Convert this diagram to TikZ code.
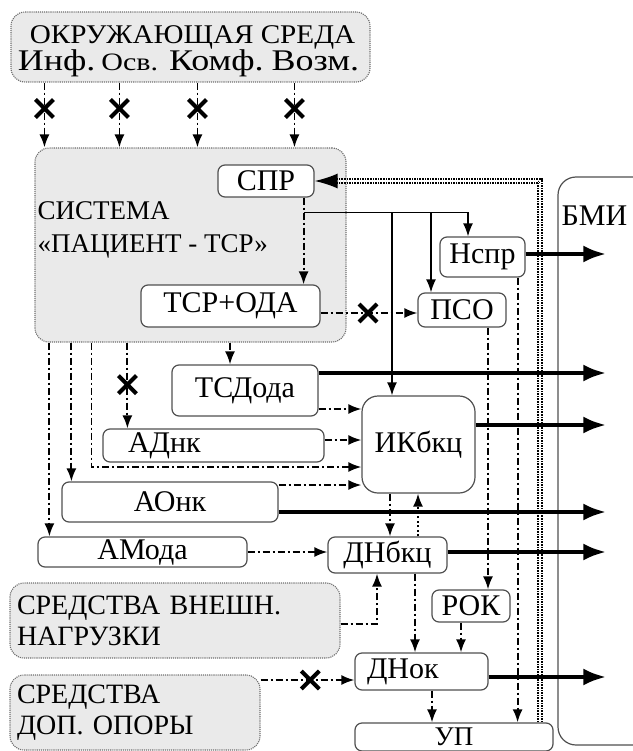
\documentclass[tikz,border=0pt]{standalone}
\usepackage{fontspec}
\setmainfont{Liberation Serif}
\usetikzlibrary{arrows.meta,shapes.misc}
\definecolor{pbFill}{RGB}{234,234,234}
\definecolor{pbEdge}{RGB}{80,80,80}
\definecolor{pbDot}{RGB}{110,110,110}

\tikzset{
  blk/.style={draw=pbEdge, line width=1.2pt, rounded corners=7pt, fill=white,
    font=\fontsize{30}{32}\selectfont, inner sep=0pt},
  grbox/.style={draw=pbDot, densely dotted, line width=1.1pt, rounded corners=14pt,
    fill=pbFill, font=\fontsize{28}{31}\selectfont, inner sep=0pt},
  dd/.style={line width=1.9pt, dash pattern=on 7pt off 3pt on 2pt off 3pt,
    -{Latex[length=13pt,width=10pt]}},
  dt/.style={line width=1.9pt, dash pattern=on 2pt off 2.6pt,
    -{Latex[length=13pt,width=10pt]}},
  sol/.style={line width=1.5pt, -{Latex[length=13pt,width=10pt]}},
  fat/.style={line width=4.5pt, -{Latex[length=23pt,width=17pt]}},
  fb/.style={double, double distance=2.6pt, line width=1.6pt, densely dotted,
    -{Latex[length=23pt,width=15pt]}},
  xm/.style={cross out, draw=black, solid, line width=4pt, minimum size=14pt, inner sep=0pt},
}
\newcommand{\wide}[2]{\scalebox{1.2}[1]{\fontsize{#1}{#1}\selectfont #2}}

\begin{document}
\begin{tikzpicture}[x=1pt, y=-1pt]
\useasboundingbox (0,0) rectangle (632,751);
%% Environment and system
\node[grbox, minimum width=359pt, minimum height=70pt] (env) at (190.5,47) {};
\node[font=\fontsize{27}{27}\selectfont, align=center, inner sep=0pt] (envT) at ([xshift=-2pt, yshift=-4pt]env.center)
  {\hspace*{8pt}\scalebox{1.08}[1]{ОКРУЖАЮЩАЯ СРЕДА}\\
   \wide{30}{Инф.}\hspace{6pt}\wide{25}{Осв.}\hspace{11pt}\wide{30}{Комф.}\hspace{8pt}\wide{30}{Возм.}};
\node[grbox, minimum width=311pt, minimum height=194pt] (sys) at (190.5,245) {};
\node[anchor=west, align=left, inner sep=0pt, font=\fontsize{27}{33}\selectfont] (sysT)
  at ([xshift=3pt, yshift=15pt]sys.west) {СИСТЕМА\\«ПАЦИЕНТ - ТСР»};
\node[grbox, minimum width=330pt, minimum height=75pt, align=left, text width=316pt] (vnesh)
  at (175,620.5) {СРЕДСТВА ВНЕШН.\\НАГРУЗКИ};
\node[grbox, minimum width=250pt, minimum height=75pt, align=left, text width=236pt] (opor)
  at (135,712.5) {СРЕДСТВА\\ДОП. ОПОРЫ};
%% BMI panel
\node[blk, rounded corners=18pt, minimum width=142pt, minimum height=568pt] (bmi) at (629,461) {};
\node[anchor=base west, inner sep=0pt, font=\fontsize{30}{32}\selectfont] (bmiT)
  at ([xshift=4pt, yshift=-49pt]bmi.north west) {БМИ};
%% Blocks
\node[blk, minimum width=96pt,  minimum height=32pt] (spr)    at (266,181)     {СПР};
\node[blk, minimum width=179pt, minimum height=42pt] (tsroda) at (230.5,306)   {ТСР+ОДА};
\node[blk, minimum width=85pt,  minimum height=40pt] (nspr)   at (482.5,257)   {Нспр};
\node[blk, minimum width=88pt,  minimum height=34pt] (pso)    at (462,310)     {ПСО};
\node[blk, minimum width=146pt, minimum height=51pt] (tsdoda) at (245,390.5)   {ТСДода};
\node[blk, rounded corners=16pt, minimum width=113pt, minimum height=97pt] (iks) at (418.5,444.5) {ИКбкц};
\node[blk, minimum width=221pt, minimum height=33pt, align=left, text width=171pt] (adnk) at (213.5,445.5) {АДнк};
\node[blk, minimum width=216pt, minimum height=40pt] (aonk)   at (170,502)     {АОнк};
\node[blk, minimum width=209pt, minimum height=30pt] (amoda)  at (142.5,552)   {АМода};
\node[blk, minimum width=119pt, minimum height=36pt] (dnbkc)  at (387.5,555)   {ДНбкц};
\node[blk, minimum width=78pt,  minimum height=32pt] (rok)    at (471,606)     {РОК};
\node[blk, minimum width=133pt, minimum height=37pt, align=left, text width=109pt] (dnok) at (421.5,671.5) {ДНок};
\node[blk, minimum width=198pt, minimum height=28pt, font=\fontsize{27}{28}\selectfont] (up) at (454,737) {УП};
%% Environment inputs
\foreach \dx [count=\i] in {34,109,187,284}{
  \coordinate (e\i) at ([xshift=\dx pt]env.south west);
  \draw[dd] (e\i) -- (e\i |- sys.north) node[xm, pos=.4] {};
}
%% Inside the system
\coordinate (sprD) at ([xshift=-11pt]spr.south east);
\draw[dd] (sprD) -- (sprD |- tsroda.north);
\coordinate (fork) at ([yshift=-15pt]sprD);
\coordinate (nsprIn) at ([xshift=-14.5pt]nspr.north);
\coordinate (psoIn) at ([xshift=-31pt]pso.north);
\coordinate (iksIn) at ([xshift=-26.5pt]iks.north);
\draw[sol] (fork) -| (nsprIn);
\draw[sol] (psoIn |- fork) -- (psoIn);
\draw[sol] (iksIn |- fork) -- (iksIn);
\coordinate (psoL) at ([yshift=-3pt]pso.west);
\draw[dd] (psoL -| tsroda.east) -- (psoL) node[xm, pos=.49] {};
%% Feedback to SPR
\coordinate (upFb) at ([xshift=86pt]up.north);
\draw[fb] (upFb) |- (spr.east);
%% Right-hand verticals
\coordinate (nsprD) at ([xshift=-8pt]nspr.south east);
\draw[dd] (nsprD) -- (nsprD |- up.north);
\coordinate (psoD) at ([xshift=26pt]pso.south);
\draw[dd] (psoD) -- (psoD |- rok.north);
%% System outputs
\coordinate (tsIn) at ([xshift=-15pt]tsdoda.north);
\draw[dd] (tsIn |- sys.south) -- (tsIn);
\coordinate (adIn) at ([xshift=25pt]adnk.north west);
\draw[dd] (adIn |- sys.south) -- (adIn) node[xm, pos=.49] {};
\coordinate (aoIn) at ([xshift=10pt]aonk.north west);
\draw[dd] (aoIn |- sys.south) -- (aoIn);
\coordinate (amIn) at ([xshift=12pt]amoda.north west);
\draw[dd] (amIn |- sys.south) -- (amIn);
\coordinate (sysD) at ([xshift=57pt]sys.south west);
\coordinate (iksL3) at ([yshift=-22.5pt]iks.west);
\draw[dd] (sysD) |- (iksL3);
%% Into IKbkc
\coordinate (iksL1) at ([yshift=35.5pt]iks.west);
\draw[dd] (iksL1 -| tsdoda.east) -- (iksL1);
\coordinate (iksL2) at ([yshift=4.5pt]iks.west);
\draw[dd] (iksL2 -| adnk.east) -- (iksL2);
\coordinate (iksL4) at ([yshift=-40.5pt]iks.west);
\draw[dd] (iksL4 -| aonk.east) -- (iksL4);
%% Lower part
\draw[dd] (amoda.east) -- (amoda.east -| dnbkc.west);
\coordinate (iksD) at ([xshift=-28.5pt]iks.south);
\draw[dd] (iksD) -- (iksD |- dnbkc.north);
\coordinate (dnU) at ([xshift=30.5pt]dnbkc.north);
\draw[dt] (dnU) -- (dnU |- iks.south);
\coordinate (dnIn) at ([xshift=-10.5pt]dnbkc.south);
\draw[dd] ([yshift=-3.5pt]vnesh.east) -| (dnIn);
\coordinate (dnD) at ([xshift=27.5pt]dnbkc.south);
\draw[dd] (dnD) -- (dnD |- dnok.north);
\coordinate (rokD) at ([xshift=-10pt]rok.south);
\draw[dd] (rokD) -- (rokD |- dnok.north);
\coordinate (dnokL) at ([yshift=-8.5pt]dnok.west);
\draw[dd] (dnokL -| opor.east) -- (dnokL) node[xm, pos=.53] {};
\coordinate (dnokD) at ([xshift=10.5pt]dnok.south);
\draw[dd] (dnokD) -- (dnokD |- up.north);
%% Outputs to BMI
\coordinate (bmiR) at ([xshift=49pt]bmi.west);
\foreach \n/\dy in {nspr/3, tsdoda/17.5, iks/19.5, aonk/-10, dnbkc/3, dnok/-5.5}{
  \coordinate (out-\n) at ([yshift=\dy pt]\n.east);
  \draw[fat] (out-\n) -- (out-\n -| bmiR);
}
\end{tikzpicture}
\end{document}
